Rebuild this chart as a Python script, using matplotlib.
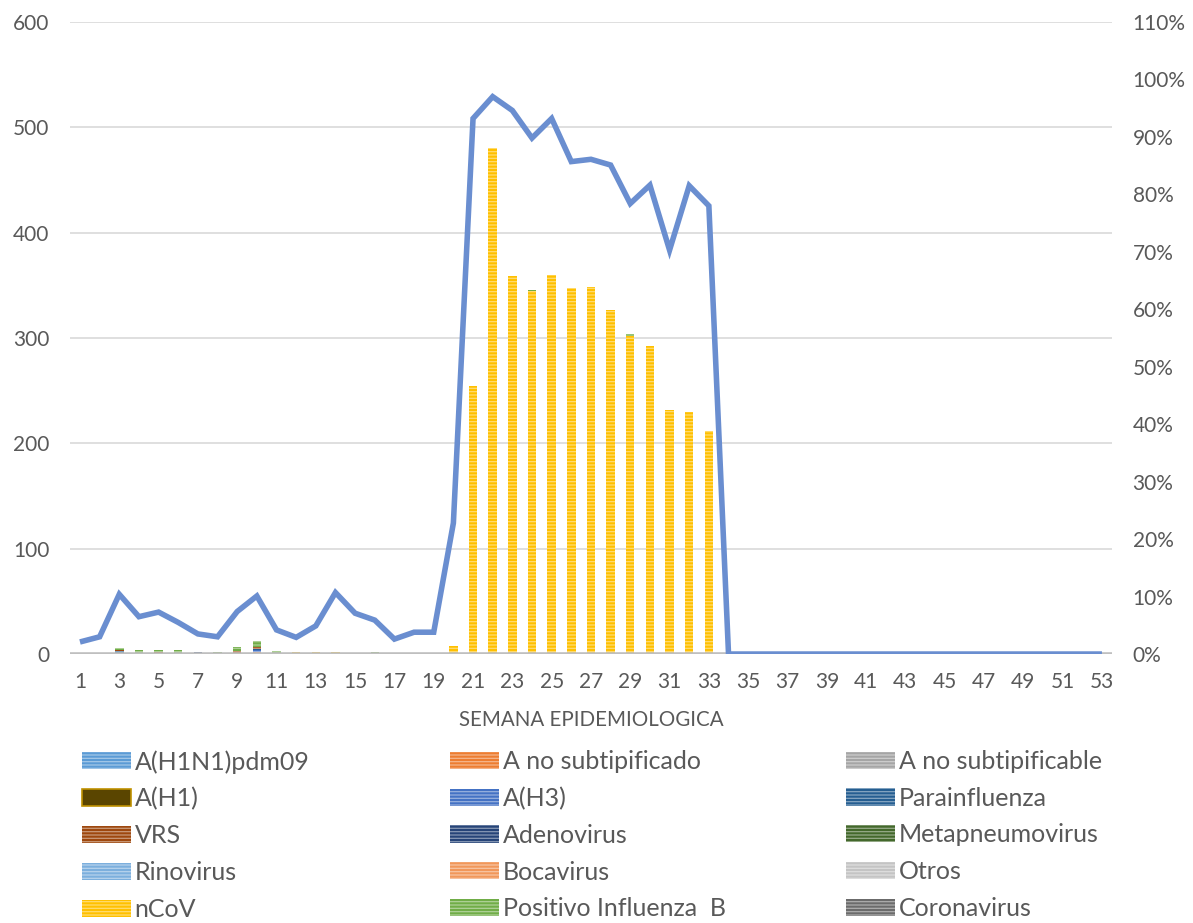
import numpy as np
import matplotlib
matplotlib.use("Agg")
import matplotlib.pyplot as plt
import matplotlib.patches as mpatches
from matplotlib.ticker import FuncFormatter, MultipleLocator

plt.rcParams["font.family"] = ["Lato", "DejaVu Sans"]
plt.rcParams["hatch.color"] = "#FFFFFF70"
plt.rcParams["hatch.linewidth"] = 0.9

weeks = np.arange(1, 54)

series_names = [
    "A(H1N1)pdm09", "A no subtipificado", "A no subtipificable",
    "A(H1)", "A(H3)", "Parainfluenza",
    "VRS", "Adenovirus", "Metapneumovirus",
    "Rinovirus", "Bocavirus", "Otros",
    "nCoV", "Positivo Influenza  B", "Coronavirus",
]
series_colors = [
    "#5B9BD5", "#ED7D31", "#A5A5A5",
    "#5A4500", "#4472C4", "#255E91",
    "#9E480E", "#264478", "#43682B",
    "#7CAFDD", "#F1975A", "#C4C4C4",
    "#FFC000", "#70AD47", "#6B6B6B",
]


def weekly(values):
    """Expand a {week: count} mapping into a 53-week array."""
    arr = np.zeros(53)
    for wk, v in values.items():
        arr[wk - 1] = v
    return arr


h1n1 = weekly({10: 1})
a_nosub = weekly({10: 1})
a_nosubable = weekly({})
a_h1 = weekly({})
a_h3 = weekly({3: 1, 9: 1, 10: 2})
parainf = weekly({3: 2, 5: 1, 10: 1})
vrs = weekly({3: 1, 5: 1, 9: 2, 10: 2})
adeno = weekly({7: 2})
metapneumo = weekly({})
rino = weekly({})
boca = weekly({})
otros = weekly({2: 1})
ncov = weekly({12: 2, 13: 2, 14: 2, 20: 8, 21: 254, 22: 480, 23: 359,
               24: 345, 25: 360, 26: 347, 27: 348, 28: 327, 29: 302,
               30: 292, 31: 232, 32: 230, 33: 212})
flu_b = weekly({3: 2, 4: 4, 5: 2, 6: 4, 8: 2, 9: 4, 10: 5, 11: 3, 16: 2,
                24: 1, 29: 2})
corona = weekly({})

series_values = [h1n1, a_nosub, a_nosubable, a_h1, a_h3, parainf, vrs, adeno,
                 metapneumo, rino, boca, otros, ncov, flu_b, corona]

# Percent positivity (right axis)
positivity = np.array([
    2.1, 3.0, 10.4, 6.5, 7.3, 5.5, 3.5, 3.0, 7.4, 10.1,
    4.2, 2.9, 4.9, 10.7, 7.1, 5.9, 2.6, 3.8, 3.8, 22.8,
    93.2, 97.0, 94.6, 89.8, 93.2, 85.7, 86.1, 85.1, 78.4, 81.6,
    70.3, 81.5, 78.0, 0, 0, 0, 0, 0, 0, 0,
    0, 0, 0, 0, 0, 0, 0, 0, 0, 0,
    0, 0, 0,
])

text_color = "#595959"

fig = plt.figure(figsize=(11.93, 9.23), dpi=100)
ax = fig.add_axes([0.0588, 0.2914, 0.8731, 0.6848])
ax2 = ax.twinx()

bottom = np.zeros(53)
handles = []
for name, color, vals in zip(series_names, series_colors, series_values):
    bc = ax.bar(weeks, vals, width=0.43, bottom=bottom, color=color,
                hatch="-----", linewidth=0, label=name, zorder=2)
    bottom = bottom + vals
    if name == "A(H1)":
        handles.append(mpatches.Patch(facecolor=color, edgecolor="#C09100",
                                      linewidth=1.2))
    else:
        handles.append(bc)

ax2.plot(weeks, positivity, color="#6A8ED0", linewidth=4.0,
         solid_joinstyle="miter", solid_capstyle="butt", zorder=5)

ax.set_xlim(0.5, 53.5)
ax.set_ylim(0, 600)
ax2.set_ylim(0, 110)

ax.set_xticks(np.arange(1, 54, 2))
ax.yaxis.set_major_locator(MultipleLocator(100))
ax2.yaxis.set_major_locator(MultipleLocator(10))
ax2.yaxis.set_major_formatter(FuncFormatter(lambda v, p: f"{v:.0f}%"))

ax.yaxis.grid(True, color="#D9D9D9", linewidth=1.2)
ax.set_axisbelow(True)

for a in (ax, ax2):
    for side in ("left", "right", "top", "bottom"):
        a.spines[side].set_visible(False)
ax.axhline(0, color="#BFBFBF", linewidth=2.6, zorder=3)

ax.tick_params(axis="x", length=0, pad=13, labelsize=15, labelcolor=text_color)
ax.tick_params(axis="y", length=0, pad=15, labelsize=15, labelcolor=text_color)
ax2.tick_params(axis="y", length=0, pad=15, labelsize=15, labelcolor=text_color)

ax.set_xlabel("SEMANA EPIDEMIOLOGICA", fontsize=14.8, color=text_color,
              labelpad=13)

# Three-column legend, read row by row
col_x = [82 / 1193, 450 / 1193, 846 / 1193]
top_y = 1 - 750 / 923
for c in range(3):
    idx = list(range(c, 15, 3))
    fig.legend([handles[i] for i in idx],
               [series_names[i] for i in idx],
               loc="upper left", bbox_to_anchor=(col_x[c], top_y),
               frameon=False, fontsize=18, borderpad=0,
               borderaxespad=0, handlelength=1.96, handleheight=0.68,
               handletextpad=0.15, labelspacing=0.55,
               labelcolor=text_color)

fig.savefig("out.png", dpi=100)
